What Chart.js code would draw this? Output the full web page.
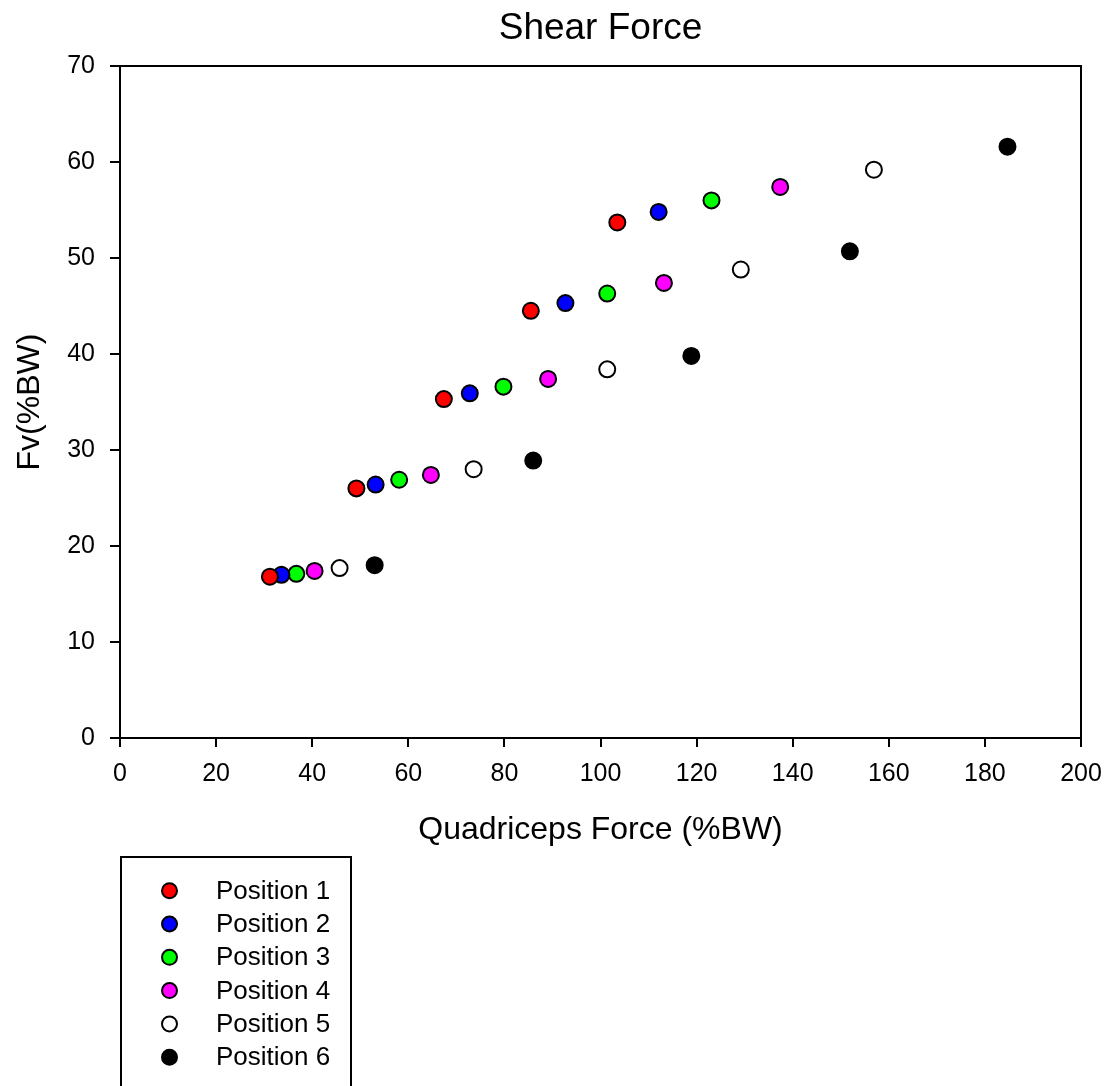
<!DOCTYPE html>
<html><head><meta charset="utf-8">
<script src="https://cdn.jsdelivr.net/npm/chart.js@4.4.0/dist/chart.umd.min.js"></script>
<style>html,body{margin:0;padding:0;background:#fff;}canvas{display:block;}</style>
</head><body>
<canvas id="c" width="1107" height="1086"></canvas>
<script>
const chartTitle = 'Shear Force';
const xTitle = 'Quadriceps Force (%BW)';
const yTitle = 'Fv(%BW)';
const seriesNames = ['Position 1', 'Position 2', 'Position 3', 'Position 4', 'Position 5', 'Position 6'];
const seriesColors = ['#ff0000', '#0000ff', '#00ff00', '#ff00ff', '#ffffff', '#000000'];
const quad1 = [31.2, 49.2, 67.4, 85.5, 103.5];
const shear1 = [16.8, 26.0, 35.3, 44.5, 53.7];
const quad2 = [33.6, 53.2, 72.8, 92.7, 112.1];
const shear2 = [17.0, 26.4, 35.9, 45.3, 54.8];
const quad3 = [36.7, 58.1, 79.8, 101.4, 123.1];
const shear3 = [17.1, 26.9, 36.6, 46.3, 56.0];
const quad4 = [40.5, 64.7, 89.1, 113.2, 137.4];
const shear4 = [17.4, 27.4, 37.4, 47.4, 57.4];
const quad5 = [45.7, 73.6, 101.4, 129.2, 156.9];
const shear5 = [17.7, 28.0, 38.4, 48.8, 59.2];
const quad6 = [53.0, 86.0, 118.9, 151.9, 184.7];
const shear6 = [18.0, 28.9, 39.8, 50.7, 61.6];
const xRange = [0, 200, 20];
const yRange = [0, 70, 10];

const quads = [quad1, quad2, quad3, quad4, quad5, quad6];
const shears = [shear1, shear2, shear3, shear4, shear5, shear6];
const FONT = "'Liberation Sans', Arial, sans-serif";

const datasets = seriesNames.map((name, i) => ({
  label: name,
  data: quads[i].map((x, j) => ({x: x, y: shears[i][j]})),
  backgroundColor: seriesColors[i],
  borderColor: '#000000',
  borderWidth: 2,
  pointRadius: 8,
  pointHoverRadius: 8,
  pointStyle: 'circle'
}));

const framePlugin = {
  id: 'frame',
  afterLayout(chart) {
    const t = chart.titleBlock;
    if (t) { t.left = chart.chartArea.left; t.right = chart.chartArea.right; t.width = t.right - t.left; }
  },
  beforeDatasetsDraw(chart) {
    const {ctx, chartArea: a} = chart;
    ctx.save();
    ctx.strokeStyle = '#000';
    ctx.lineWidth = 2;
    ctx.strokeRect(a.left, a.top, a.right - a.left, a.bottom - a.top);
    ctx.restore();
  },
  afterDraw(chart) {
    const ctx = chart.ctx;
    ctx.save();
    ctx.strokeStyle = '#000';
    ctx.lineWidth = 2;
    ctx.beginPath();
    ctx.moveTo(121, 1095);
    ctx.lineTo(121, 857);
    ctx.lineTo(351, 857);
    ctx.lineTo(351, 1095);
    ctx.stroke();
    ctx.font = '26px ' + FONT;
    ctx.textBaseline = 'middle';
    ctx.textAlign = 'left';
    chart.data.datasets.forEach((ds, i) => {
      const y = 890.7 + i * 33.3;
      ctx.beginPath();
      ctx.arc(169.5, y, 7.5, 0, Math.PI * 2);
      ctx.fillStyle = ds.backgroundColor;
      ctx.fill();
      ctx.lineWidth = 2;
      ctx.strokeStyle = '#000';
      ctx.stroke();
      ctx.fillStyle = '#000';
      ctx.fillText(ds.label, 216, y + 1);
    });
    ctx.restore();
  }
};

new Chart(document.getElementById('c'), {
  type: 'scatter',
  data: {datasets: datasets},
  plugins: [framePlugin],
  options: {
    responsive: false,
    animation: false,
    devicePixelRatio: 1,
    layout: {padding: {left: 0, right: 26, top: 0, bottom: 0}},
    plugins: {
      legend: {display: false},
      tooltip: {enabled: false},
      title: {
        display: true,
        text: chartTitle,
        color: '#000',
        font: {family: FONT, size: 37, weight: 'normal', lineHeight: 1.2},
        padding: {top: 7, bottom: 14.6}
      }
    },
    scales: {
      x: {
        type: 'linear',
        min: xRange[0], max: xRange[1],
        afterFit(s) { s.height = 348; s.paddingRight = 0; s.paddingLeft = 0; },
        border: {display: false},
        grid: {display: true, drawOnChartArea: false, drawTicks: true, tickLength: 9, color: '#000', lineWidth: 2},
        ticks: {stepSize: xRange[2], color: '#000', padding: 12, font: {family: FONT, size: 25}, maxRotation: 0, autoSkip: false},
        title: {display: true, text: xTitle, color: '#000', font: {family: FONT, size: 32, lineHeight: 1.2}, padding: {top: 0, bottom: 237}}
      },
      y: {
        type: 'linear',
        min: yRange[0], max: yRange[1],
        afterFit(s) { s.width = 120; },
        border: {display: false},
        grid: {display: true, drawOnChartArea: false, drawTicks: true, tickLength: 10, color: '#000', lineWidth: 2},
        ticks: {stepSize: yRange[2], color: '#000', padding: 15, font: {family: FONT, size: 25}, autoSkip: false},
        title: {display: true, text: yTitle, color: '#000', font: {family: FONT, size: 32, lineHeight: 1.2}, padding: {top: 11, bottom: 0}}
      }
    }
  }
});
</script>
</body></html>
